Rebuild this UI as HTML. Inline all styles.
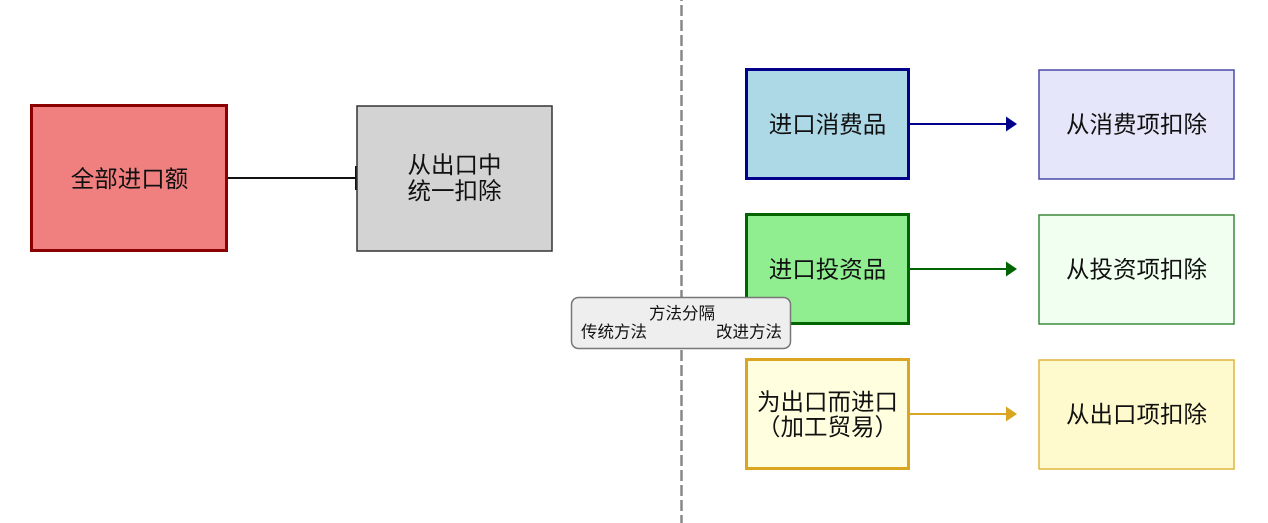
<!DOCTYPE html>
<html>
<head>
<meta charset="utf-8">
<style>
html,body{margin:0;padding:0;background:#fff;}
svg{display:block;}
text{font-family:"Liberation Sans","Noto Sans CJK SC",sans-serif;fill:#111;}
</style>
</head>
<body>
<svg width="1268" height="523" viewBox="0 0 1268 523" xmlns="http://www.w3.org/2000/svg">
  <!-- divider -->
  <line x1="681.5" y1="0" x2="681.5" y2="523" stroke="#888" stroke-width="2.5" stroke-dasharray="11 4" stroke-dashoffset="10"/>

  <!-- left part -->
  <line x1="228" y1="178" x2="356" y2="178" stroke="#111" stroke-width="2"/>
  <line x1="356" y1="166" x2="356" y2="190" stroke="#111" stroke-width="2"/>
  <rect x="31.5" y="105.5" width="195" height="145" fill="#F08080" stroke="#8B0000" stroke-width="3"/>
  <text x="129.5" y="179" font-size="23.5" text-anchor="middle" dominant-baseline="central">全部进口额</text>
  <rect x="357" y="106" width="195" height="145" fill="#D3D3D3" stroke="#333" stroke-width="1.5"/>
  <text x="454.5" y="165" font-size="23.5" text-anchor="middle" dominant-baseline="central">从出口中</text>
  <text x="454.5" y="191" font-size="23.5" text-anchor="middle" dominant-baseline="central">统一扣除</text>

  <!-- row 1 -->
  <line x1="909" y1="124" x2="1007" y2="124" stroke="#00008B" stroke-width="2"/>
  <polygon points="1006,116.5 1017,124 1006,131.5" fill="#00008B"/>
  <rect x="746.5" y="69.5" width="162" height="109" fill="#ADD8E6" stroke="#00008B" stroke-width="3"/>
  <text x="827.5" y="124.5" font-size="23.5" text-anchor="middle" dominant-baseline="central">进口消费品</text>
  <rect x="1039" y="70" width="195" height="109" fill="#E6E6FA" stroke="#4A4AAA" stroke-width="1.5"/>
  <text x="1136.5" y="124.5" font-size="23.5" text-anchor="middle" dominant-baseline="central">从消费项扣除</text>

  <!-- row 2 -->
  <line x1="909" y1="269" x2="1007" y2="269" stroke="#006400" stroke-width="2"/>
  <polygon points="1006,261.5 1017,269 1006,276.5" fill="#006400"/>
  <rect x="746.5" y="214.5" width="162" height="109" fill="#90EE90" stroke="#006400" stroke-width="3"/>
  <text x="827.5" y="269.5" font-size="23.5" text-anchor="middle" dominant-baseline="central">进口投资品</text>
  <rect x="1039" y="215" width="195" height="109" fill="#F0FFF0" stroke="#3A8A3A" stroke-width="1.5"/>
  <text x="1136.5" y="269.5" font-size="23.5" text-anchor="middle" dominant-baseline="central">从投资项扣除</text>

  <!-- row 3 -->
  <line x1="909" y1="414" x2="1007" y2="414" stroke="#DAA520" stroke-width="2"/>
  <polygon points="1006,406.5 1017,414 1006,421.5" fill="#DAA520"/>
  <rect x="746.5" y="359.5" width="162" height="109" fill="#FFFFE0" stroke="#DAA520" stroke-width="3"/>
  <text x="827.5" y="402" font-size="23.5" text-anchor="middle" dominant-baseline="central">为出口而进口</text>
  <text x="827.5" y="427" font-size="23.5" text-anchor="middle" dominant-baseline="central">（加工贸易）</text>
  <rect x="1039" y="360" width="195" height="109" fill="#FFFACD" stroke="#E0B63C" stroke-width="1.5"/>
  <text x="1136.5" y="414.5" font-size="23.5" text-anchor="middle" dominant-baseline="central">从出口项扣除</text>

  <!-- label (on top) -->
  <rect x="571.5" y="297.5" width="219" height="51" rx="7" ry="7" fill="#EEEEEE" stroke="#777" stroke-width="1.5"/>
  <text x="682" y="314" font-size="16.5" text-anchor="middle" dominant-baseline="central" fill="#222">方法分隔</text>
  <text x="581" y="332.5" font-size="16.5" dominant-baseline="central" fill="#222">传统方法</text>
  <text x="782" y="332.5" font-size="16.5" text-anchor="end" dominant-baseline="central" fill="#222">改进方法</text>
</svg>
</body>
</html>
